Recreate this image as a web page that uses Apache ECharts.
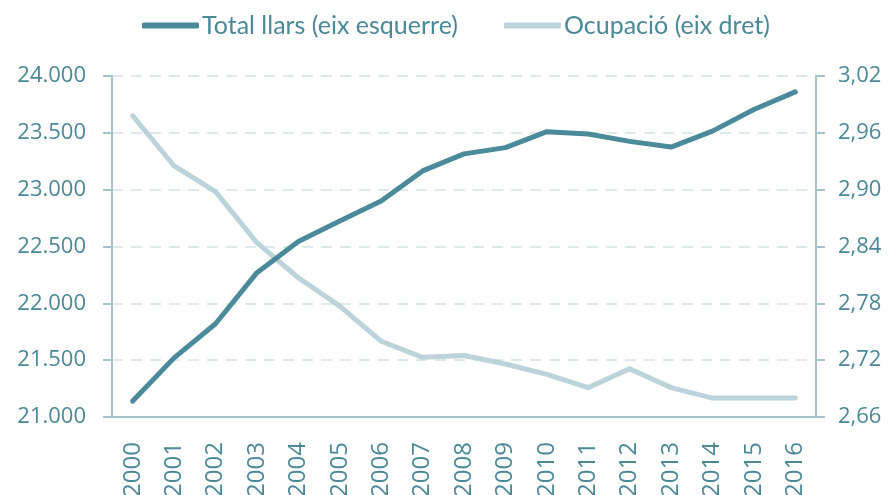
<!DOCTYPE html>
<html>
<head>
<meta charset="utf-8">
<script src="https://cdn.jsdelivr.net/npm/echarts@6/dist/echarts.min.js"></script>
<style>
  html, body { margin: 0; padding: 0; background: #fff; }
  #llars { width: 890px; height: 495px; }
</style>
</head>
<body>
<div id="llars"></div>
<script>
var years = ['2000', '2001', '2002', '2003', '2004', '2005', '2006', '2007', '2008',
             '2009', '2010', '2011', '2012', '2013', '2014', '2015', '2016'];
var totalLlars = [21140, 21520, 21820, 22270, 22545, 22725, 22900, 23165, 23315,
                  23370, 23510, 23490, 23425, 23375, 23515, 23705, 23860];
var ocupacio = [2.978, 2.925, 2.898, 2.844, 2.807, 2.777, 2.740, 2.723, 2.725,
                2.716, 2.705, 2.691, 2.711, 2.691, 2.680, 2.680, 2.680];

var fosc = '#4a8a9a';
var clar = '#bcd3d9';
var textColor = '#4b8898';
var axisColor = '#a6c3ca';
var font = 'Open Sans';

var myChart = echarts.init(document.getElementById('llars'));

option = {
    animation: false,
    textStyle: { fontFamily: font },
    legend: {
        top: 8,
        left: 137,
        itemWidth: 57,
        itemHeight: 6,
        itemGap: 46,
        icon: 'roundRect',
        textStyle: {
            color: textColor,
            fontSize: 25,
            fontFamily: 'Lato',
            padding: [0, 0, 0, -2]
        },
        data: ['Total llars (eix esquerre)', 'Ocupació (eix dret)']
    },
    grid: {
        left: 112,
        right: 74,
        top: 76,
        bottom: 78,
        outerBoundsMode: 'none'
    },
    xAxis: {
        type: 'category',
        data: years,
        boundaryGap: true,
        axisLine: { lineStyle: { color: axisColor, width: 2 } },
        axisTick: { length: 9, lineStyle: { color: axisColor, width: 2 } },
        axisLabel: {
            rotate: 90,
            margin: 25,
            color: textColor,
            fontSize: 24,
            fontFamily: font
        },
        splitLine: { show: false }
    },
    yAxis: [
        {
            type: 'value',
            min: 21000,
            max: 24000,
            interval: 500,
            axisLine: { show: true, lineStyle: { color: axisColor, width: 2 } },
            axisTick: { show: true, length: 9, lineStyle: { color: axisColor, width: 2 } },
            axisLabel: {
                margin: 26,
                color: textColor,
                fontSize: 22,
                fontFamily: font,
                formatter: function (v) {
                    return String(v).replace(/\B(?=(\d{3})+(?!\d))/g, '.');
                }
            },
            splitLine: {
                show: true,
                lineStyle: { color: '#dfe8eb', width: 2, type: [11, 8] }
            }
        },
        {
            type: 'value',
            min: 2.66,
            max: 3.02,
            interval: 0.06,
            axisLine: { show: true, lineStyle: { color: axisColor, width: 2 } },
            axisTick: { show: true, length: 9, lineStyle: { color: axisColor, width: 2 } },
            axisLabel: {
                margin: 22,
                color: textColor,
                fontSize: 22,
                fontFamily: font,
                formatter: function (v) {
                    return v.toFixed(2).replace('.', ',');
                }
            },
            splitLine: { show: false }
        }
    ],
    series: [
        {
            name: 'Total llars (eix esquerre)',
            type: 'line',
            yAxisIndex: 0,
            data: totalLlars,
            color: fosc,
            symbol: 'none',
            lineStyle: { width: 5, cap: 'round', join: 'round' },
            z: 3
        },
        {
            name: 'Ocupació (eix dret)',
            type: 'line',
            yAxisIndex: 1,
            data: ocupacio,
            color: clar,
            symbol: 'none',
            lineStyle: { width: 5, cap: 'round', join: 'round' },
            z: 2
        }
    ]
};
myChart.setOption(option);
</script>
</body>
</html>
